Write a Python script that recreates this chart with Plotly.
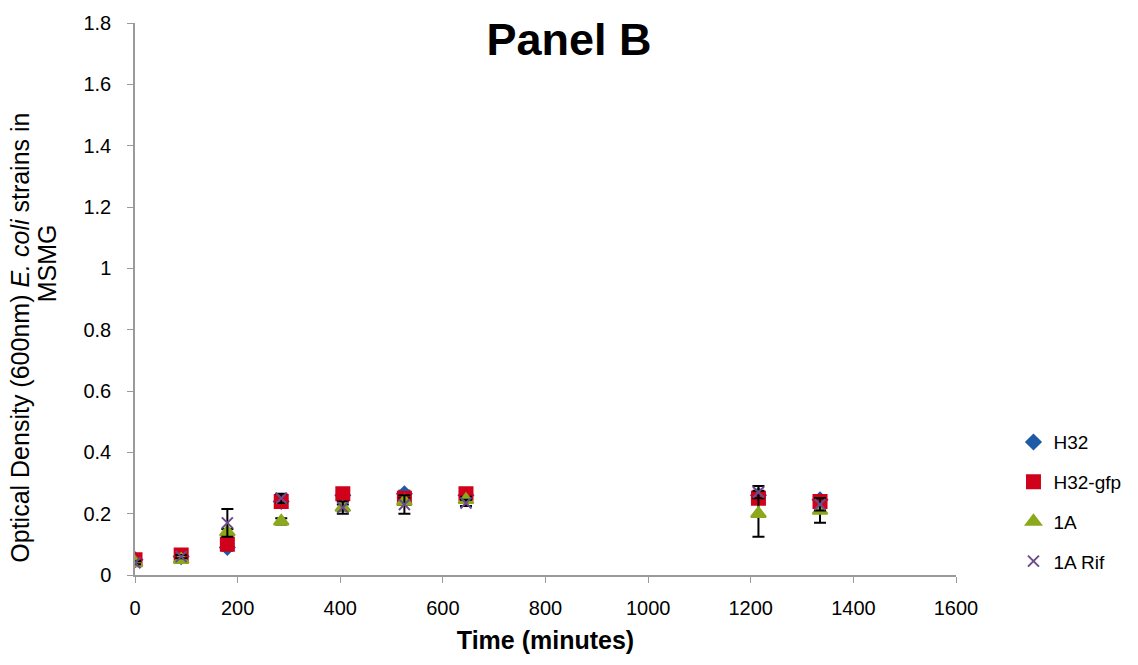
import plotly.graph_objects as go

# Sampling times (minutes)
time_min = [0, 90, 180, 285, 405, 525, 645, 1215, 1335]

# Optical density (600 nm) per strain
od_h32 = [0.05, 0.06, 0.09, 0.24, 0.26, 0.265, 0.26, 0.26, 0.245]
od_h32_gfp = [0.05, 0.065, 0.10, 0.24, 0.265, 0.25, 0.265, 0.25, 0.24]
od_1a = [0.04, 0.05, 0.14, 0.175, 0.22, 0.24, 0.245, 0.20, 0.21]
od_1a_rif = [0.04, 0.06, 0.17, 0.25, 0.22, 0.23, 0.235, 0.27, 0.23]

# Standard deviations
sd_h32 = [0.005, 0.005, 0.01, 0.01, 0.01, 0.01, 0.01, 0.01, 0.01]
sd_h32_gfp = [0.005, 0.005, 0.01, 0.01, 0.01, 0.01, 0.01, 0.01, 0.01]
sd_1a = [0.005, 0.005, 0.01, 0.01, 0.01, 0.01, 0.01, 0.075, 0.04]
sd_1a_rif = [0.005, 0.005, 0.045, 0.015, 0.02, 0.03, 0.01, 0.02, 0.02]

series = [
    ("H32", od_h32, sd_h32, "#1f5aa6", "diamond", 11),
    ("H32-gfp", od_h32_gfp, sd_h32_gfp, "#d0021b", "square", 13),
    ("1A", od_1a, sd_1a, "#8ca81c", "triangle-up", 13),
    ("1A Rif", od_1a_rif, sd_1a_rif, "#6b4c8a", "x-thin-open", 11),
]

fig = go.Figure()
for name, y, sd, color, symbol, size in series:
    fig.add_trace(go.Scatter(
        x=time_min, y=y, name=name, mode="markers", legendgroup=name,
        marker=dict(color=color, symbol=symbol, size=size,
                    line=dict(color=color, width=2)),
        error_y=dict(type="data", array=sd, visible=True,
                     color="black", thickness=2, width=6),
    ))

family = "Liberation Sans, Arial, sans-serif"
axis_font = dict(family=family, size=20, color="black")
ytitle_font = dict(family=family, size=25, color="black")

# Two-line rotated y-axis title
fig.add_annotation(text="Optical Density (600nm) <i>E. coli</i> strains in",
                   xref="paper", yref="paper", x=-0.14, y=0.43,
                   xanchor="center", yanchor="middle",
                   textangle=-90, showarrow=False, font=ytitle_font)
fig.add_annotation(text="MSMG",
                   xref="paper", yref="paper", x=-0.107, y=0.565,
                   xanchor="center", yanchor="middle",
                   textangle=-90, showarrow=False, font=ytitle_font)

fig.update_layout(
    width=1138, height=665,
    margin=dict(l=135, r=181, t=21, b=90),
    paper_bgcolor="white", plot_bgcolor="white",
    font=axis_font,
    title=dict(text="<b>Panel B</b>", x=0.5, xanchor="center", xref="container",
               y=0.965, yanchor="top",
               font=dict(family=family, size=45, color="black")),
    xaxis=dict(range=[0, 1600], dtick=200, showgrid=False, zeroline=False,
               showline=True, linecolor="#9a9a9a", linewidth=1.5,
               ticks="outside", ticklen=6, tickcolor="#9a9a9a",
               tickfont=axis_font, ticklabelstandoff=8,
               title=dict(text="<b>Time (minutes)</b>",
                          font=dict(family=family, size=25, color="black"),
                          standoff=14)),
    yaxis=dict(range=[0, 1.8], dtick=0.2, showgrid=False, zeroline=False,
               showline=True, linecolor="#9a9a9a", linewidth=1.5,
               ticks="outside", ticklen=6, tickcolor="#9a9a9a",
               tickfont=axis_font, ticklabelstandoff=12),
    legend=dict(x=1.07, y=0.275, xanchor="left", yanchor="top",
                font=dict(family=family, size=19, color="black"),
                bgcolor="rgba(0,0,0,0)", itemwidth=30, tracegroupgap=12),
)

fig.write_html("out.html")
